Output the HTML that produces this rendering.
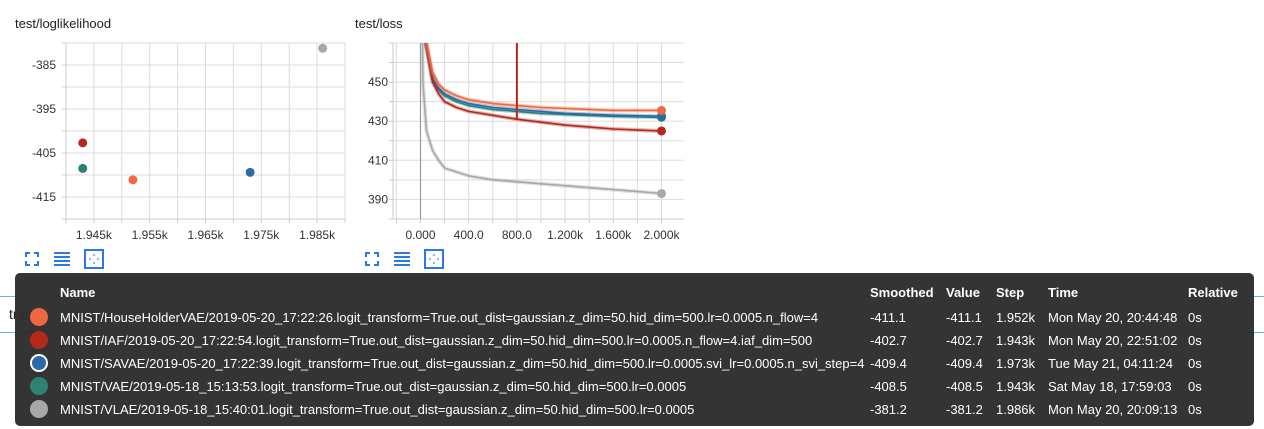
<!DOCTYPE html>
<html><head><meta charset="utf-8">
<style>
body{margin:0;width:1264px;height:429px;background:#fff;font-family:"Liberation Sans",sans-serif;position:relative;overflow:hidden}
.title{position:absolute;top:16px;font-size:13px;color:#212121}
.ico{position:absolute;top:250px;width:18px;height:18px}
#legend{position:absolute;left:15px;top:273px;width:1239px;height:153px;background:rgba(45,45,45,0.97);border-radius:5px;color:#fff;font-size:13px}
.row{position:absolute;left:0;height:20px;width:100%}
.row span{position:absolute;white-space:nowrap}
.dot{position:absolute;left:15px;width:18px;height:18px;border-radius:50%;box-sizing:border-box}
.hdr span{font-weight:bold}
</style></head><body>
<div style="position:absolute;left:0;top:296px;width:1264px;height:35px;border-top:1px solid #7ba7e6;border-bottom:1px solid #7ba7e6"></div>
<div style="position:absolute;left:9px;top:306px;font-size:14px;color:#222">train</div>
<div class="title" style="left:15px">test/loglikelihood</div>
<div class="title" style="left:355px">test/loss</div>
<svg id="c1" width="1264" height="270" style="position:absolute;left:0;top:0"></svg>
<div id="icons"></div>
<div id="legend">
 <div class="row hdr" style="top:12px">
  <span style="left:45px">Name</span><span style="left:855px">Smoothed</span><span style="left:931px">Value</span><span style="left:981px">Step</span><span style="left:1033px">Time</span><span style="left:1173px">Relative</span>
 </div>
</div>
<script>
const runNames=["MNIST/HouseHolderVAE/2019-05-20_17:22:26.logit_transform=True.out_dist=gaussian.z_dim=50.hid_dim=500.lr=0.0005.n_flow=4","MNIST/IAF/2019-05-20_17:22:54.logit_transform=True.out_dist=gaussian.z_dim=50.hid_dim=500.lr=0.0005.n_flow=4.iaf_dim=500","MNIST/SAVAE/2019-05-20_17:22:39.logit_transform=True.out_dist=gaussian.z_dim=50.hid_dim=500.lr=0.0005.svi_lr=0.0005.n_svi_step=4","MNIST/VAE/2019-05-18_15:13:53.logit_transform=True.out_dist=gaussian.z_dim=50.hid_dim=500.lr=0.0005","MNIST/VLAE/2019-05-18_15:40:01.logit_transform=True.out_dist=gaussian.z_dim=50.hid_dim=500.lr=0.0005"];
const runColors=["#ee6840","#b5291c","#2a6aa6","#2c8470","#a8a8a8"];
const llValues=[-411.1,-402.7,-409.4,-408.5,-381.2];
const llSteps=[1952,1943,1973,1943,1986];
const llTimes=["Mon May 20, 20:44:48","Mon May 20, 22:51:02","Tue May 21, 04:11:24","Sat May 18, 17:59:03","Mon May 20, 20:09:13"];
const llXTicks=["1.945k","1.955k","1.965k","1.975k","1.985k"];
const llYTicks=[-385,-395,-405,-415];
const lossSteps=[0,20,50,100,150,200,300,400,600,700,800,1000,1200,1600,2000];
const lossHH=[490,480,470,455,449,446,443,441,439,438.5,438,437,436.5,435.5,435.5];
const lossIAF=[490,480,468,450,444,440,437,435,433,432,431,429.5,428,426,425];
const lossSAV=[490,480,468,452,447,444,441,439,437,436.5,436,435,434,433,432.5];
const lossVAE=[490,480,468,451,446,443,440,438,436,435.5,435,434,433.5,432.5,432];
const lossVLAE=[600,450,425,415,410,406,404,402,400,399.5,399,398,397,395,393];
const lossXTicks=["0.000","400.0","800.0","1.200k","1.600k","2.000k"];
const lossYTicks=[390,410,430,450];
const NS="http://www.w3.org/2000/svg";
const svg=document.getElementById('c1');
function mk(t,a,p){const e=document.createElementNS(NS,t);for(const k in a)e.setAttribute(k,a[k]);(p||svg).appendChild(e);return e;}
const T=43,B=219;
const x1=s=>66+(s-1940)*5.58, y1=v=>T+(-380-v)*4.4;
const x2=s=>420.5+s*0.1205, y2=v=>T+(470-v)*1.955;
function grp(name){const g=mk('g',{});return g;}
const g1=grp('loglikelihood-plot');
for(let s=1940;s<=1990;s+=5){mk('line',{x1:x1(s),x2:x1(s),y1:T,y2:B,stroke:'#ddd'},g1);mk('line',{x1:x1(s),x2:x1(s),y1:B,y2:B+4,stroke:'#ccc'},g1);}
for(let v=-380;v>=-420;v-=5){mk('line',{x1:66,x2:345,y1:y1(v),y2:y1(v),stroke:'#ddd'},g1);mk('line',{x1:62,x2:66,y1:y1(v),y2:y1(v),stroke:'#ccc'},g1);}
mk('line',{x1:66,x2:66,y1:T,y2:B,stroke:'#ccc'},g1);mk('line',{x1:66,x2:345,y1:B,y2:B,stroke:'#ccc'},g1);
llXTicks.forEach((t,i)=>{const e=mk('text',{x:x1(1945+10*i),y:239,'text-anchor':'middle','font-size':12,fill:'#333'},g1);e.textContent=t;});
llYTicks.forEach(v=>{const e=mk('text',{x:56,y:y1(v)+4,'text-anchor':'end','font-size':12,fill:'#333'},g1);e.textContent=v;});
llValues.forEach((v,i)=>{const c=mk('circle',{cx:x1(llSteps[i]),cy:y1(v),r:4.5,fill:runColors[i]},g1);});
const g2=grp('loss-plot');
for(let s=-200;s<=2100;s+=200){mk('line',{x1:x2(s),x2:x2(s),y1:T,y2:B,stroke:'#ddd'},g2);mk('line',{x1:x2(s),x2:x2(s),y1:B,y2:B+4,stroke:'#ccc'},g2);}
for(let v=470;v>=380;v-=10){mk('line',{x1:393,x2:684,y1:y2(v),y2:y2(v),stroke:'#ddd'},g2);mk('line',{x1:389,x2:393,y1:y2(v),y2:y2(v),stroke:'#ccc'},g2);}
mk('line',{x1:393,x2:393,y1:T,y2:B,stroke:'#ccc'},g2);mk('line',{x1:393,x2:684,y1:B,y2:B,stroke:'#ccc'},g2);
mk('line',{x1:x2(0),x2:x2(0),y1:T,y2:B,stroke:'#999','stroke-width':1.2},g2);
lossXTicks.forEach((t,i)=>{const e=mk('text',{x:x2(400*i),y:239,'text-anchor':'middle','font-size':12,fill:'#333'},g2);e.textContent=t;});
lossYTicks.forEach(v=>{const e=mk('text',{x:388,y:y2(v)+4,'text-anchor':'end','font-size':12,fill:'#333'},g2);e.textContent=v;});
const clip=mk('clipPath',{id:'cp'});mk('rect',{x:393,y:T,width:291,height:B-T},clip);
const series=[lossVLAE,lossVAE,lossSAV,lossIAF,lossHH];const sc=[4,3,2,1,0];
series.forEach((arr,k)=>{const d=arr.map((v,i)=>(i?'L':'M')+x2(lossSteps[i]).toFixed(1)+','+y2(v).toFixed(1)).join('');
 mk('path',{d:d,fill:'none',stroke:runColors[sc[k]],'stroke-opacity':0.35,'stroke-width':4,'clip-path':'url(#cp)'},g2);
 const p=mk('path',{d:d,fill:'none',stroke:runColors[sc[k]],'stroke-width':1.6,'clip-path':'url(#cp)'},g2);
 
 mk('circle',{cx:x2(lossSteps[lossSteps.length-1]),cy:y2(arr[arr.length-1]),r:4.5,fill:runColors[sc[k]]},g2);});
mk('line',{x1:x2(800),x2:x2(800),y1:T,y2:y2(431),stroke:runColors[1],'stroke-width':2},g2);
const icons=document.getElementById('icons');
[29,369].forEach(l=>{
 icons.insertAdjacentHTML('beforeend',`<svg class="ico" style="left:${l-6}px" viewBox="0 0 18 18"><path d="M3 7V3h4M11 3h4v4M15 11v4h-4M7 15H3v-4" fill="none" stroke="#2979e8" stroke-width="2"/></svg>
 <svg class="ico" style="left:${l+24}px" viewBox="0 0 18 18"><path d="M1 3h16M1 7h16M1 11h16M1 15h16" stroke="#2979e8" stroke-width="2"/></svg>
 <svg class="ico" style="left:${l+55}px;width:20px;height:20px;top:249px" viewBox="0 0 20 20"><rect x="1" y="1" width="18" height="18" fill="none" stroke="#2979e8" stroke-width="2"/><path d="M10 5l-1.5 1.5h3zM10 15l-1.5-1.5h3zM5 10l1.5-1.5v3zM15 10l-1.5-1.5v3z" fill="#2979e8"/></svg>`);
});
const lg=document.getElementById('legend');
runNames.forEach((n,i)=>{
 const r=document.createElement('div');r.className='row';r.style.top=(35+i*23)+'px';
 
 
 const ring=i===2?'border:2px solid #fff;':'';
 r.innerHTML=`<div class="dot" style="background:${runColors[i]};${ring}top:0px"></div><span style="left:45px;top:2px">${n}</span><span style="left:855px;top:2px">${llValues[i].toFixed(1)}</span><span style="left:931px;top:2px">${llValues[i].toFixed(1)}</span><span style="left:981px;top:2px">${(llSteps[i]/1000).toFixed(3)}k</span><span style="left:1033px;top:2px">${llTimes[i]}</span><span style="left:1173px;top:2px">0s</span>`;
 lg.appendChild(r);
});
</script>
</body></html>
